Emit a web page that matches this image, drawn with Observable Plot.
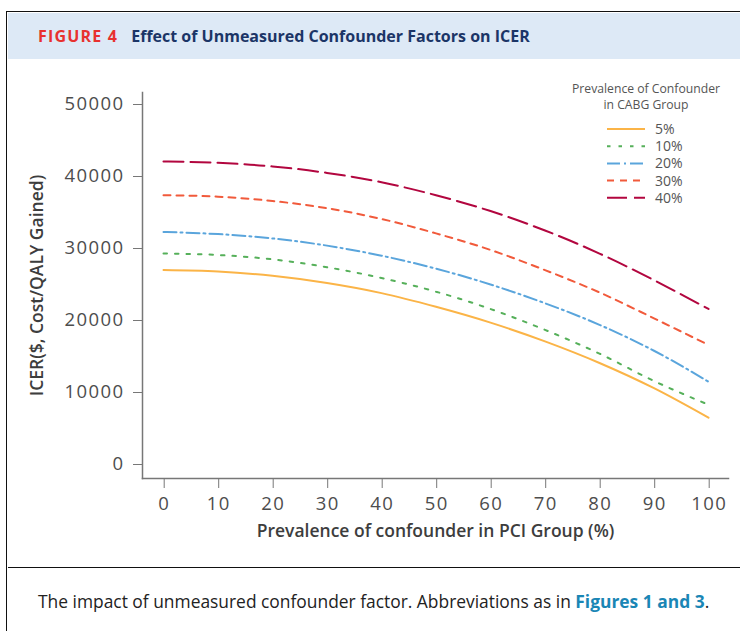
<!DOCTYPE html>
<html><head><meta charset="utf-8">
<script src="https://cdn.jsdelivr.net/npm/d3@7"></script>
<script src="https://cdn.jsdelivr.net/npm/@observablehq/plot@0.6"></script>
<style>
body{margin:0;width:740px;height:631px;overflow:hidden;background:#fff;font-family:"Open Sans",sans-serif;position:relative}
#frame{position:absolute;left:6px;top:11px;width:760px;height:660px;border-left:1.5px solid #111;border-top:1.5px solid #111;box-sizing:border-box}
#header{position:absolute;left:7.5px;top:12.5px;width:740px;height:46px;background:#dde9f6}
#htitle{position:absolute;left:38px;top:25px;font-size:16px;font-weight:700;white-space:nowrap;font-family:"Open Sans",sans-serif}
#htitle .fig{color:#e8312f;letter-spacing:1.2px;margin-right:13px;font-size:16px}
#htitle .t{color:#1b3567}
#sep{position:absolute;left:7.5px;top:567px;width:740px;border-top:1.5px solid #111}
#caption{position:absolute;left:38px;top:589px;font-size:17.4px;color:#222;white-space:nowrap}
#caption b{color:#1a86b5}
#chart{position:absolute;left:0;top:60px}
#chart g[aria-label$="tick label"] text{letter-spacing:1.4px}
#legend{position:absolute;left:560px;top:81px;width:172px}
#legtitle{text-align:center;font-size:12.2px;color:#555;line-height:16px}
#legsvg{position:absolute;left:0;top:29px}
</style></head>
<body>
<div id="frame"></div>
<div id="header"></div>
<div id="htitle"><span class="fig">FIGURE 4</span><span class="t">Effect of Unmeasured Confounder Factors on ICER</span></div>
<div id="chart"></div>
<div id="legend"><div id="legtitle">Prevalence of Confounder<br>in CABG Group</div><svg id="legsvg" width="172" height="110"></svg></div>
<div id="sep"></div>
<div id="caption">The impact of unmeasured confounder factor. Abbreviations as in <b>Figures 1 and 3</b>.</div>
<script>
// Data
const prevalencePCI = [0, 10, 20, 30, 40, 50, 60, 70, 80, 90, 100];
const seriesNames = ["5%", "10%", "20%", "30%", "40%"];
const icer5  = [27000, 26800, 26200, 25200, 23800, 21900, 19700, 17100, 14100, 10600, 6500];
const icer10 = [29300, 29100, 28500, 27400, 25900, 24000, 21600, 18700, 15400, 11600, 8300];
const icer20 = [32300, 32000, 31400, 30400, 29000, 27200, 25000, 22400, 19400, 15800, 11500];
const icer30 = [37400, 37200, 36600, 35600, 34100, 32100, 29800, 27000, 23900, 20300, 16600];
const icer40 = [42100, 41900, 41400, 40500, 39200, 37400, 35200, 32500, 29300, 25600, 21600];
const xTicks = [0, 10, 20, 30, 40, 50, 60, 70, 80, 90, 100];
const yTicks = [0, 10000, 20000, 30000, 40000, 50000];
const xTitle = "Prevalence of confounder in PCI Group (%)";
const yTitle = "ICER($, Cost/QALY Gained)";

// Styles
const seriesColors = ["#fbb447", "#56b05a", "#5aa5dc", "#f15a3b", "#b2063f"];
const seriesDashes = [null, "3.5,8", "13,4,2,4", "7,6", "20,7"];

const allValues = [icer5, icer10, icer20, icer30, icer40];
const rows = seriesNames.flatMap((s, i) => prevalencePCI.map((x, j) => ({series: s, x, y: allValues[i][j]})));

const lineMarks = seriesNames.map((s, i) => Plot.line(rows.filter(d => d.series === s), {
  x: "x", y: "y", stroke: seriesColors[i], strokeWidth: 2,
  strokeDasharray: seriesDashes[i] || undefined, curve: "monotone-x"
}));

const chart = Plot.plot({
  width: 740, height: 505,
  marginLeft: 142, marginRight: 12, marginTop: 32, marginBottom: 87,
  insetLeft: 21, insetRight: 20, insetTop: 12, insetBottom: 14,
  style: {fontFamily: "Open Sans, sans-serif", fontSize: "18px", color: "#4d4d4d", background: "transparent", overflow: "visible"},
  x: {domain: [0, 100]},
  y: {domain: [0, 50000]},
  marks: [
    Plot.frame({anchor: "left", stroke: "#777", strokeWidth: 1.5}),
    Plot.frame({anchor: "bottom", stroke: "#777", strokeWidth: 1.5}),
    Plot.axisY({ticks: yTicks, tickSize: 9, tickPadding: 9, tickFormat: d => String(d), label: null, stroke: "#777", fill: "#4d4d4d", fontSize: 18.5}),
    Plot.axisX({ticks: xTicks, tickSize: 10, tickPadding: 8, tickFormat: d => String(d), label: null, stroke: "#777", fill: "#4d4d4d", fontSize: 18.5, dx: 0.7}),
    Plot.text([yTitle], {text: d => d, frameAnchor: "left", dx: -105, rotate: -90, textAnchor: "middle", fontSize: 17.5, fontWeight: 600, fill: "#3d3d3d", lineAnchor: "middle"}),
    Plot.text([xTitle], {text: d => d, frameAnchor: "bottom", dy: 53, textAnchor: "middle", fontSize: 17.5, fontWeight: 600, fill: "#3d3d3d", lineAnchor: "middle"}),
    ...lineMarks
  ]
});
document.getElementById("chart").appendChild(chart);

// Legend
const leg = d3.select("#legsvg");
seriesNames.forEach((s, i) => {
  const y = 19 + i * 17.2;
  leg.append("line").attr("x1", 47).attr("x2", 85).attr("y1", y).attr("y2", y)
    .attr("stroke", seriesColors[i]).attr("stroke-width", 2)
    .attr("stroke-dasharray", seriesDashes[i]);
  leg.append("text").attr("x", 95).attr("y", y).attr("dy", "0.35em")
    .attr("font-size", 14).attr("fill", "#555").attr("font-family", "Open Sans, sans-serif").text(s);
});
</script>
</body></html>
